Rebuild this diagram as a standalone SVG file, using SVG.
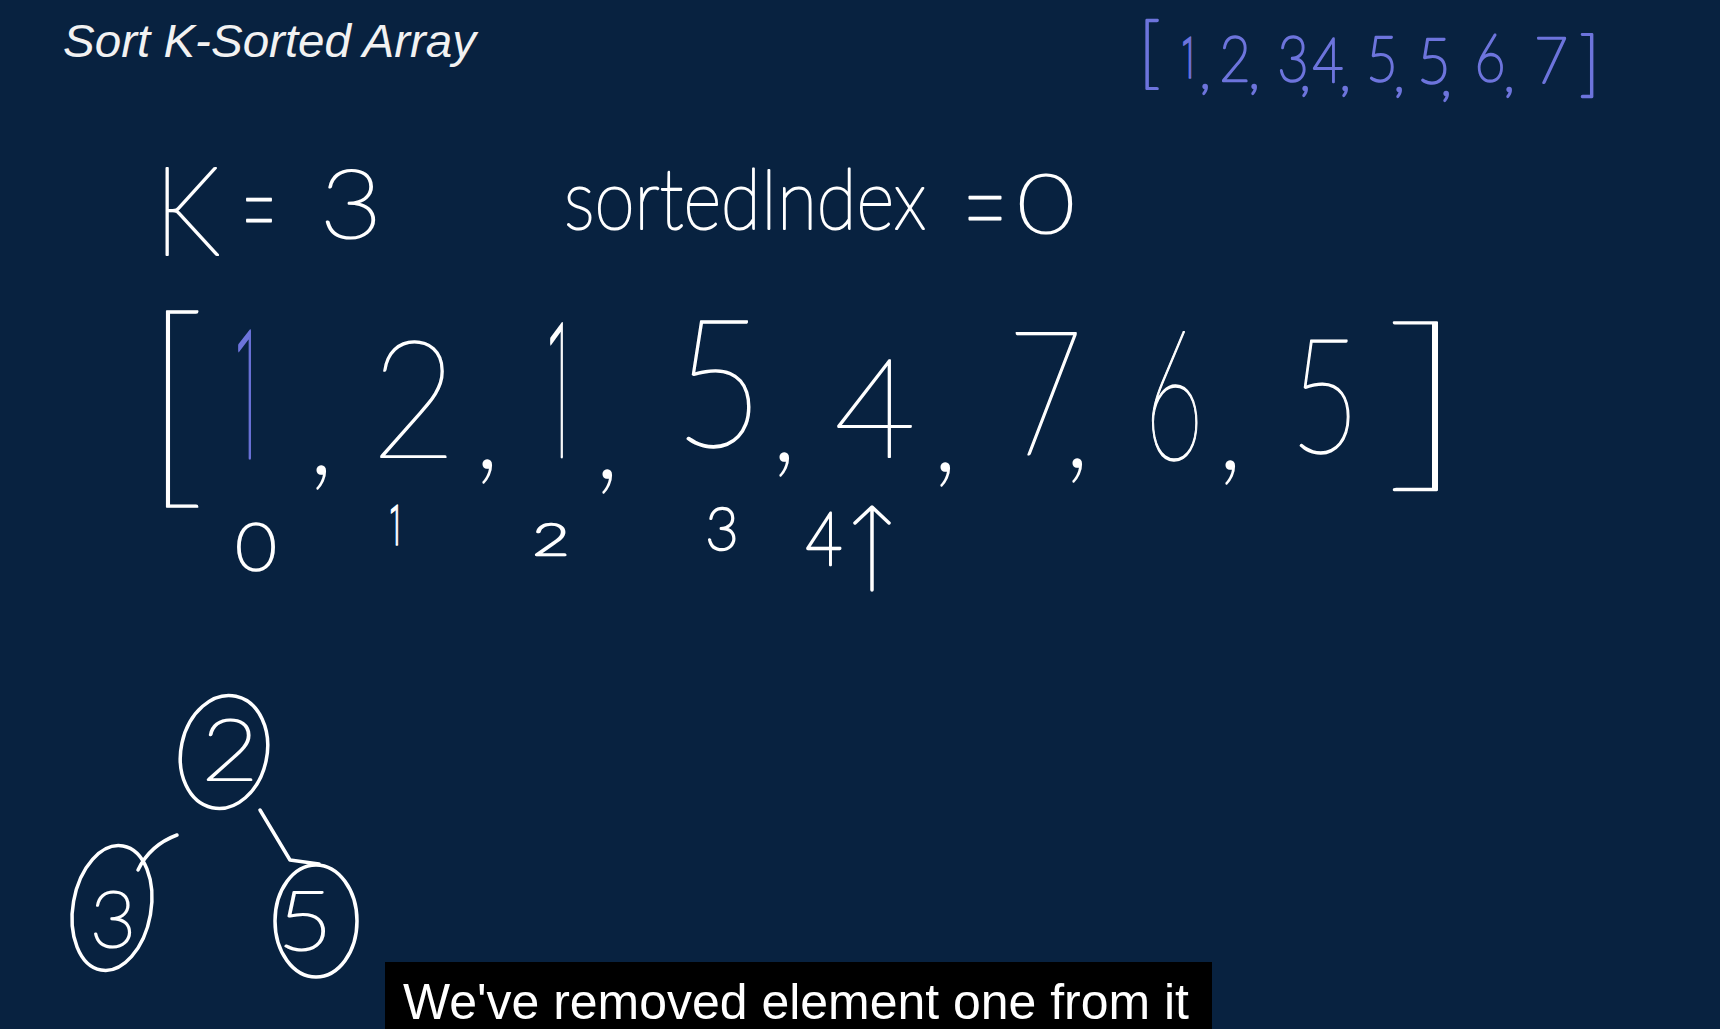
<svg xmlns="http://www.w3.org/2000/svg" width="1720" height="1029" viewBox="0 0 1720 1029">
<style>
.hw{font-family:Lato,"Open Sans","DejaVu Sans",sans-serif;font-weight:100;fill:#fff;stroke:#fff;stroke-linejoin:round;text-anchor:middle}
.b{fill:#6d74dc;stroke:#6d74dc}
.s1{stroke-width:1.6}
.s2{stroke-width:2.2}
.s3{stroke-width:2.6}
.st{text-anchor:start}
.ink{fill:none;stroke:#fff;stroke-width:3.5;stroke-linecap:round;stroke-linejoin:round}
</style>
<rect x="0" y="0" width="1720" height="1029" fill="#082240"/>
<g id="title">
<text x="63" y="57" font-family="'Liberation Sans',Arial,sans-serif" font-style="italic" font-size="47" fill="#f2f2f2" textLength="413" lengthAdjust="spacingAndGlyphs">Sort K-Sorted Array</text>
</g>
<g id="sorted-result">
<text class="hw b s3" font-size="62"><tspan x="1138" y="79" font-size="79" class="st">[</tspan><tspan x="1189" y="78" font-size="57" textLength="16" lengthAdjust="spacingAndGlyphs" style="font-family:Roboto,'Open Sans','Noto Sans',sans-serif;font-weight:300;stroke-width:1.5">1</tspan><tspan x="1205" y="88" font-size="50">,</tspan><tspan x="1235" y="81" textLength="31" lengthAdjust="spacingAndGlyphs">2</tspan><tspan x="1254" y="88" font-size="50">,</tspan><tspan x="1293" y="81" textLength="31" lengthAdjust="spacingAndGlyphs">3</tspan><tspan x="1305" y="90" font-size="50">,</tspan><tspan x="1328" y="82" textLength="31" lengthAdjust="spacingAndGlyphs">4</tspan><tspan x="1345" y="90" font-size="50">,</tspan><tspan x="1382" y="81" textLength="31" lengthAdjust="spacingAndGlyphs">5</tspan><tspan x="1399" y="91" font-size="50">,</tspan><tspan x="1434" y="83" textLength="33" lengthAdjust="spacingAndGlyphs">5</tspan><tspan x="1446" y="95" font-size="50">,</tspan><tspan x="1490" y="81" font-size="66" textLength="31" lengthAdjust="spacingAndGlyphs">6</tspan><tspan x="1509" y="91" font-size="50">,</tspan><tspan x="1551" y="83" font-size="64" textLength="34" lengthAdjust="spacingAndGlyphs">7</tspan><tspan x="1579" y="88" font-size="73" class="st">]</tspan></text>
</g>
<g id="k-value">
<text class="hw s2"><tspan x="187" y="255" font-size="125" textLength="66" lengthAdjust="spacingAndGlyphs">K</tspan><tspan x="259" y="258" font-size="140" textLength="36" lengthAdjust="spacingAndGlyphs">=</tspan><tspan x="351" y="238" font-size="97" textLength="62" lengthAdjust="spacingAndGlyphs">3</tspan></text>
</g>
<g id="sorted-index">
<text class="hw s2"><tspan class="st" x="564" y="229" font-size="84" textLength="362" lengthAdjust="spacingAndGlyphs">sortedIndex</tspan><tspan x="985" y="256" font-size="140" textLength="46" lengthAdjust="spacingAndGlyphs">=</tspan><tspan x="1046" y="233" font-size="83" textLength="58" lengthAdjust="spacingAndGlyphs">0</tspan></text>
</g>
<g id="array">
<text class="hw s1" font-size="130"><tspan class="st" x="142" y="480" font-size="225">[</tspan><tspan class="b" x="248" y="458" font-size="179" textLength="28" lengthAdjust="spacingAndGlyphs" style="font-family:Roboto,'Open Sans','Noto Sans',sans-serif;font-weight:100;stroke-width:3.2">1</tspan><tspan x="321" y="473">,</tspan><tspan x="414" y="458" font-size="164" textLength="86" lengthAdjust="spacingAndGlyphs">2</tspan><tspan x="487" y="467">,</tspan><tspan x="560" y="457" font-size="187" textLength="28" lengthAdjust="spacingAndGlyphs" style="font-family:Roboto,'Open Sans','Noto Sans',sans-serif;font-weight:100;stroke-width:2.6">1</tspan><tspan x="607" y="477">,</tspan><tspan x="719" y="447" font-size="179" textLength="90" lengthAdjust="spacingAndGlyphs">5</tspan><tspan x="784" y="460">,</tspan><tspan x="875" y="457" font-size="138" textLength="82" lengthAdjust="spacingAndGlyphs">4</tspan><tspan x="945" y="470">,</tspan><tspan x="1045" y="455" font-size="174" textLength="76" lengthAdjust="spacingAndGlyphs">7</tspan><tspan x="1077" y="466">,</tspan><tspan x="1174" y="460" font-size="183" textLength="60" lengthAdjust="spacingAndGlyphs">6</tspan><tspan x="1230" y="468">,</tspan><tspan x="1325" y="453" font-size="161" textLength="70" lengthAdjust="spacingAndGlyphs">5</tspan><tspan class="st" x="1381" y="467" font-size="193" textLength="90" lengthAdjust="spacingAndGlyphs">]</tspan></text>
</g>
<g id="indices">
<text class="hw s3" x="256" y="570" font-size="65" textLength="41" lengthAdjust="spacingAndGlyphs">0</text>
<text class="hw" x="396" y="545" font-size="56" textLength="14" lengthAdjust="spacingAndGlyphs" style="font-family:Roboto,'Open Sans','Noto Sans',sans-serif;font-weight:300;stroke-width:1.5">1</text>
<text class="hw s3" x="551" y="555" font-size="44" textLength="37" lengthAdjust="spacingAndGlyphs">2</text>
<text class="hw s3" x="722" y="550" font-size="60" textLength="33" lengthAdjust="spacingAndGlyphs">3</text>
<text class="hw s3" x="824" y="565" font-size="74" textLength="37" lengthAdjust="spacingAndGlyphs">4</text>
</g>
<g id="pointer">
<path class="ink" d="M872,590 L872,508 M855,523 L872,507 L889,523"/>
</g>
<g id="connectors">
<path class="ink" d="M138,870 Q150,845 177,835"/>
<path class="ink" d="M260,810 L290,860 L319,864"/>
</g>
<g id="node-2">
<ellipse class="ink" cx="224" cy="752" rx="43" ry="57" transform="rotate(12 224 752)"/>
<text class="hw s2" x="230" y="780" font-size="86" textLength="57" lengthAdjust="spacingAndGlyphs">2</text>
</g>
<g id="node-3">
<ellipse class="ink" cx="112" cy="908" rx="39" ry="63" transform="rotate(10 112 908)"/>
<text class="hw s2" x="113" y="947" font-size="79" textLength="46" lengthAdjust="spacingAndGlyphs">3</text>
</g>
<g id="node-5">
<ellipse class="ink" cx="316" cy="921" rx="41" ry="56"/>
<text class="hw s2" x="305" y="950" font-size="83" textLength="55" lengthAdjust="spacingAndGlyphs">5</text>
</g>
<g id="caption">
<rect x="385" y="962" width="827" height="67" fill="#000"/>
<text x="403" y="1019" font-family="'Liberation Sans',Arial,sans-serif" font-size="50" fill="#fff" textLength="786" lengthAdjust="spacingAndGlyphs">We've removed element one from it</text>
</g>
</svg>
